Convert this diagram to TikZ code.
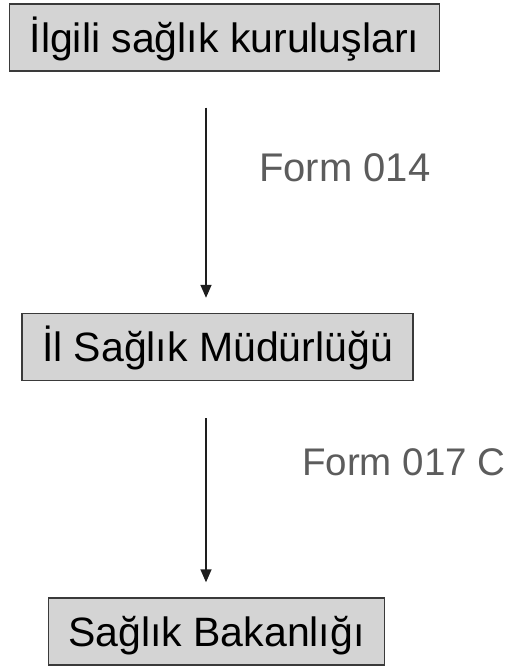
\documentclass[tikz,border=0pt]{standalone}
\usepackage{fontspec}
\setmainfont{Liberation Sans}
\usetikzlibrary{arrows.meta}
\definecolor{boxfill}{HTML}{D4D4D4}
\definecolor{boxline}{HTML}{3A3A3A}
\definecolor{labelgray}{HTML}{5C5C5C}
\definecolor{arrowline}{HTML}{1E1E1E}
\tikzset{
  unit/.style={draw=boxline, fill=boxfill, line width=1.4pt,
    minimum height=67pt, inner xsep=20pt, inner ysep=0pt,
    text height=29.5pt, text depth=0pt,
    font=\fontsize{41}{49}\selectfont},
  formlabel/.style={anchor=base west, inner sep=0pt, text=labelgray,
    font=\fontsize{40}{48}\selectfont},
  flow/.style={draw=arrowline, line width=1.5pt,
    -{Triangle[length=13pt,width=11pt]}}
}
\begin{document}
\begin{tikzpicture}[x=1pt,y=-1pt]
  \useasboundingbox (0,0) rectangle (504,666);
  \begin{scope}
    \clip (0,0) rectangle (504,666);
    % organisational units
    \node[unit] (b1) at (224.5,37.5) {İlgili sağlık kuruluşları};
    \node[unit] (b2) at (217.5,347) {İl Sağlık Müdürlüğü};
    \node[unit] (b3) at (216.5,631.5) {Sağlık Bakanlığı};
    % axis of the reporting arrows
    \coordinate (ax) at (206,0);
    \draw[flow, shorten <=36pt, shorten >=15pt] (b1.south -| ax) -- (b2.north -| ax);
    \draw[flow, shorten <=37pt, shorten >=15pt] (b2.south -| ax) -- (b3.north -| ax);
    % form names
    \node[formlabel] (f1) at (259,181) {Form 014};
    \node[formlabel, font=\fontsize{38.5}{46}\selectfont] (f2) at (302,475) {Form 017 C};
  \end{scope}
\end{tikzpicture}
\end{document}
